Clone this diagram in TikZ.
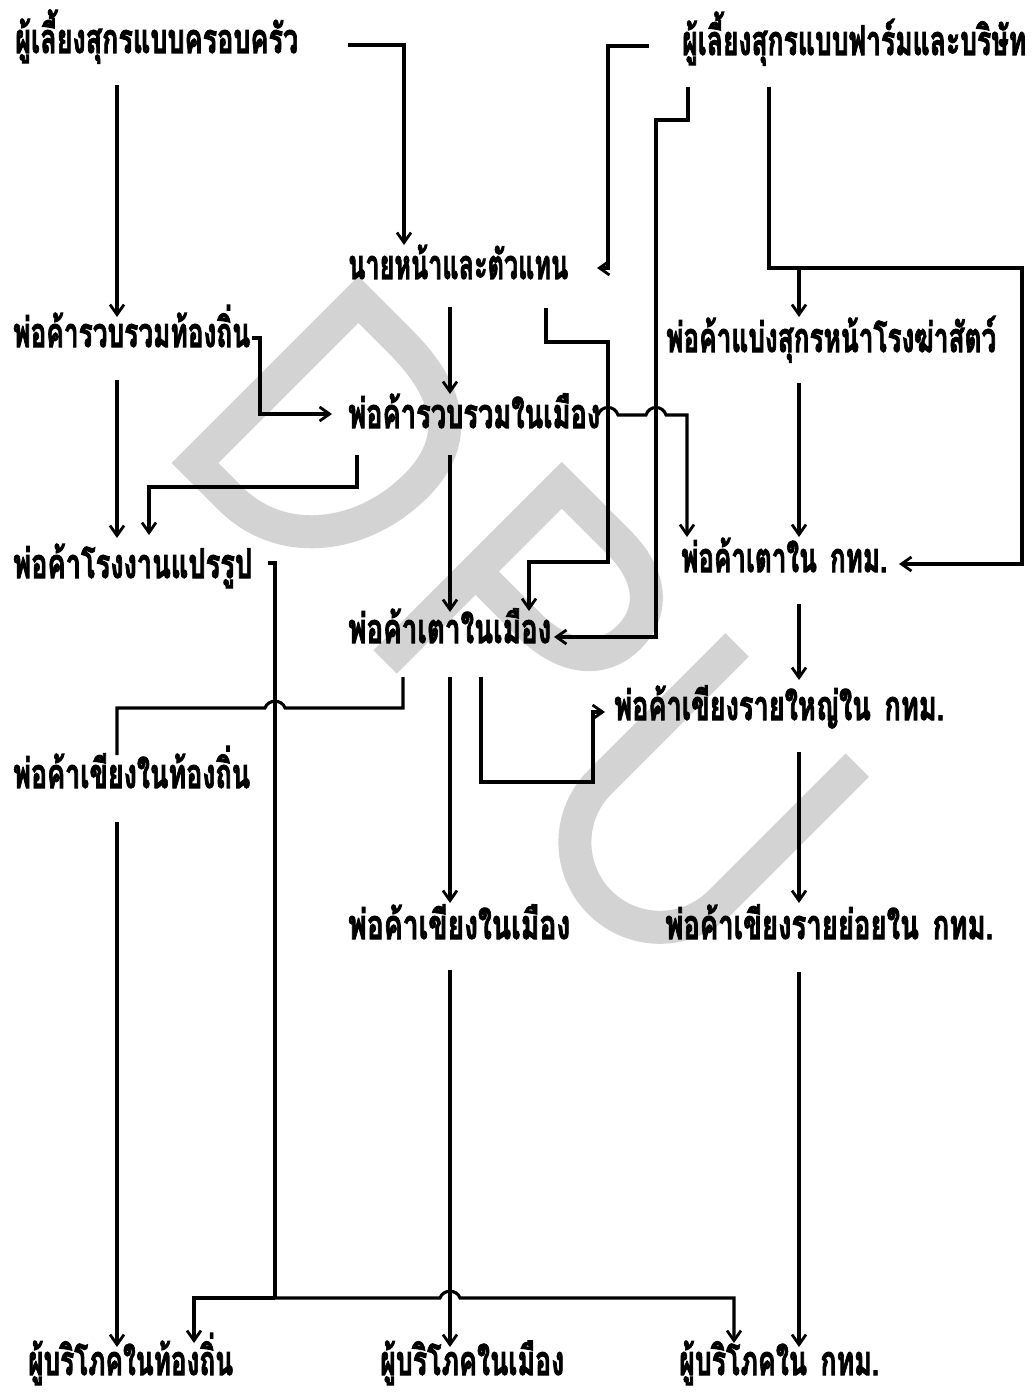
\documentclass[tikz,border=0pt]{standalone}
\usepackage{fontspec}
\usepackage{graphicx}
\usetikzlibrary{arrows.meta}
\newfontfamily\thai[Script=Thai,BoldFeatures={FakeBold=2.5}]{Loma}
\definecolor{wm}{RGB}{211,211,211}
\newcommand\fw[2]{\resizebox{#1pt}{\height}{#2}}
\begin{document}
\begin{tikzpicture}[x=1pt,y=-1pt,
  lbl/.style={inner sep=0pt, anchor=base west, font=\thai\bfseries\fontsize{41}{44}\selectfont},
  ln/.style={line width=3.1pt, line join=miter},
  arr/.style={ln, -{Straight Barb[length=10pt,width=14pt,line width=2.8pt]}},
  wmark/.style={draw=wm, line width=33pt, line join=miter}]
\useasboundingbox (0,0) rectangle (1034,1396);
% watermark D P U
\begin{scope}[shift={(195,463)}, rotate=-45]
  \draw[wmark] (50,0) -- (0,0) -- (0,-231) -- (60,-231) .. controls (145,-231) and (176,-192) .. (172,-130) .. controls (168,-60) and (120,0) .. (50,0);
\end{scope}
\begin{scope}[shift={(385,662)}, rotate=-45]
  \draw[wmark] (0,0) -- (0,-250) -- (80,-250) .. controls (130,-250) and (155,-225) .. (155,-190) .. controls (155,-152) and (125,-128) .. (75,-128) -- (-16,-128);
\end{scope}
\begin{scope}[shift={(737,645)}, rotate=-45]
  \draw[wmark] (0,0) -- (0,194) .. controls (0,241) and (38,279) .. (85,279) .. controls (132,279) and (170,241) .. (170,194) -- (170,0);
\end{scope}
% nodes
\node[lbl] (fam) at (15,53) {\fw{283}{ผู้เลี้ยงสุกรแบบครอบครัว}};
\node[lbl] (farm) at (682,55) {\fw{344}{ผู้เลี้ยงสุกรแบบฟาร์มและบริษัท}};
\node[lbl] (agent) at (348,279) {\fw{220}{นายหน้าและตัวแทน}};
\node[lbl] (lc) at (13,347) {\fw{237}{พ่อค้ารวบรวมท้องถิ่น}};
\node[lbl] (slau) at (666,352) {\fw{330}{พ่อค้าแบ่งสุกรหน้าโรงฆ่าสัตว์}};
\node[lbl] (cc) at (348,428) {\fw{252}{พ่อค้ารวบรวมในเมือง}};
\node[lbl] (fact) at (13,578) {\fw{239}{พ่อค้าโรงงานแปรรูป}};
\node[lbl] (bov) at (681,572) {\fw{206}{พ่อค้าเตาใน\hspace{0.5em}กทม.}};
\node[lbl] (cov) at (348,643) {\fw{203}{พ่อค้าเตาในเมือง}};
\node[lbl] (blg) at (614,720) {\fw{330}{พ่อค้าเขียงรายใหญ่ใน\hspace{0.5em}กทม.}};
\node[lbl] (lst) at (13,788) {\fw{237}{พ่อค้าเขียงในท้องถิ่น}};
\node[lbl] (cst) at (348,939) {\fw{222}{พ่อค้าเขียงในเมือง}};
\node[lbl] (bsm) at (665,939) {\fw{328}{พ่อค้าเขียงรายย่อยใน\hspace{0.5em}กทม.}};
\node[lbl] (lcon) at (28,1375) {\fw{205}{ผู้บริโภคในท้องถิ่น}};
\node[lbl] (ccon) at (380,1375) {\fw{184}{ผู้บริโภคในเมือง}};
\node[lbl] (bcon) at (679,1375) {\fw{200}{ผู้บริโภคใน\hspace{0.5em}กทม.}};
% connectors
\draw[arr] (117,85) -- (117,317);
\draw[arr] (348,45) -- (404,45) -- (404,245);
\draw[arr] (649,46) -- (608,46) -- (608,268) -- (597,268);
\draw[arr] (688,87) -- (688,120) -- (656,120) -- (656,637) -- (554,637);
\draw[arr] (769,87) -- (769,268) -- (1022,268) -- (1022,564) -- (899,564);
\draw[arr] (799,268) -- (799,317);
\draw[arr] (450,307) -- (450,394);
\draw[arr] (546,308) -- (546,342) -- (608,342) -- (608,562) -- (529,562) -- (529,611);
\draw[arr] (252,338) -- (260,338) -- (260,414) -- (332,414);
\draw[arr] (117,380) -- (117,538);
\draw[arr] (357,455) -- (357,487) -- (149,487) -- (149,535);
\draw[arr] (450,455) -- (450,612);
\draw[arr] (598,415) .. controls (601,405) and (615,405) .. (618,415) -- (646,415) .. controls (649,405) and (663,405) .. (666,415) -- (687,415) -- (687,537);
\draw[arr] (799,383) -- (799,537);
\draw[arr] (799,604) -- (799,680);
\draw[arr] (481,677) -- (481,782) -- (593,782) -- (593,712) -- (605,712);
\draw[arr] (450,677) -- (450,903);
\draw[ln] (403,677) -- (403,708) -- (285,708) .. controls (282,699) and (268,699) .. (265,708) -- (117,708) -- (117,755);
\draw[ln] (268,563) -- (275,563) -- (275,1298);
\draw[arr] (275,1298) -- (194,1298) -- (194,1343);
\draw[arr] (275,1298) -- (440,1298) .. controls (443,1289) and (457,1289) .. (460,1298) -- (734,1298) -- (734,1343);
\draw[arr] (117,822) -- (117,1347);
\draw[arr] (450,970) -- (450,1347);
\draw[arr] (799,752) -- (799,903);
\draw[arr] (799,972) -- (799,1347);
\end{tikzpicture}
\end{document}
